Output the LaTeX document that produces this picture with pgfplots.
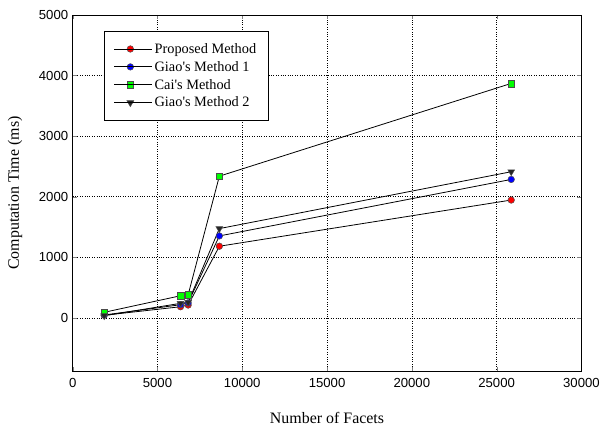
\documentclass[border=0pt]{standalone}
\usepackage{pgfplots}
\pgfplotsset{compat=1.18}
\usepackage{fontspec}
\setmainfont{Liberation Serif}
\newfontfamily\arial{Liberation Sans}
\begin{document}
\begin{tikzpicture}
\begin{axis}[
  name=ax,
  scale only axis,
  width=511pt, height=358pt,
  xmin=0, xmax=30000, ymin=-880, ymax=5000,
  xtick={0,5000,...,30000}, ytick={0,1000,...,5000},
  scaled ticks=false,
  /pgf/number format/assume math mode=true,
  /pgf/number format/set thousands separator={},
  ticklabel style={font=\arial\fontsize{13.2}{14}\selectfont},
  xticklabel style={yshift=-3pt},
  yticklabel style={xshift=-1pt},
  tick align=inside,
  major tick length=4pt,
  grid=major,
  major grid style={black, dotted, line width=0.6pt},
  axis line style={black, line width=0.7pt},
  every axis x label/.style={at={(rel axis cs:0.5,0)}, yshift=-47pt, anchor=center},
  every axis y label/.style={at={(rel axis cs:0,0.5)}, xshift=-58pt, rotate=90, anchor=center},
  label style={font=\fontsize{16}{18}\selectfont},
  xlabel={Number of Facets},
  ylabel={Computation Time (ms)},
  legend style={at={(0.061,0.955)}, anchor=north west, draw=black, line width=0.7pt,
    font=\fontsize{14.4}{16}\selectfont, inner xsep=10pt, inner ysep=10pt, row sep=2.5pt},
  legend cell align=left,
  legend image code/.code={\draw[mark repeat=2,mark phase=2] plot coordinates {(0pt,0pt)(16pt,0pt)(32pt,0pt)};
    \path (0pt,0pt) -- (38pt,0pt);},
]
\addplot[black, line width=0.8pt, mark=*, mark size=3.3pt, mark options={draw=black!70, line width=0.5pt, fill=red}] coordinates {
 (1860,45) (6360,186) (6810,214) (8650,1184) (25860,1946)};
\addlegendentry{Proposed Method}
\addplot[black, line width=0.8pt, mark=*, mark size=3.3pt, mark options={draw=black!70, line width=0.5pt, fill=blue}] coordinates {
 (1860,50) (6360,219) (6810,250) (8650,1354) (25860,2286)};
\addlegendentry{Giao\textquotesingle s Method 1}
\addplot[black, line width=0.8pt, mark=square*, mark size=3.4pt, mark options={draw=black!70, line width=0.5pt, fill=green}] coordinates {
 (1860,94) (6360,367) (6810,384) (8650,2340) (25860,3870)};
\addlegendentry{Cai\textquotesingle s Method}
\addplot[black, line width=0.8pt, mark=triangle*, mark size=4pt, mark options={draw=black!70, line width=0.5pt, fill=black!85, rotate=180}] coordinates {
 (1860,38) (6360,242) (6810,258) (8650,1475) (25860,2413)};
\addlegendentry{Giao\textquotesingle s Method 2}
\end{axis}
\path ([shift={(-73pt,-55pt)}]ax.south west) rectangle ([shift={(19pt,15pt)}]ax.north east);
\end{tikzpicture}
\end{document}
